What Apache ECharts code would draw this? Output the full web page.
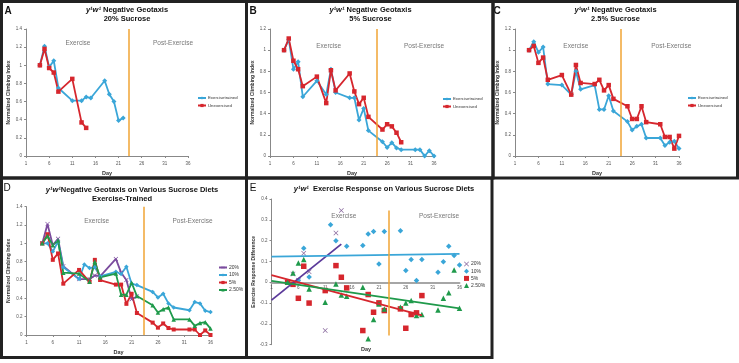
<!DOCTYPE html>
<html>
<head>
<meta charset="utf-8">
<title>Negative Geotaxis</title>
<style>
  html, body, #main { width: 739px; height: 363px; margin: 0; overflow: hidden; background: #fff; }
</style>
</head>
<body>
<div id="main"></div>
<script src="https://cdn.jsdelivr.net/npm/echarts@6/dist/echarts.min.js"></script>
<script>
// ---- values ----
// A: 20% sucrose
var daysA_trained = [4, 5, 6, 7, 8, 11, 13, 14, 15, 18, 19, 20, 21, 22];
var valsA_trained = [1.0, 1.21, 0.98, 1.05, 0.75, 0.61, 0.61, 0.65, 0.64, 0.83, 0.68, 0.60, 0.39, 0.42];
var daysA_unex = [4, 5, 6, 7, 8, 11, 13, 14];
var valsA_unex = [1.0, 1.18, 0.97, 0.92, 0.71, 0.85, 0.37, 0.31];

// B: 5% sucrose
var daysB_trained = [4, 5, 6, 7, 8, 11, 13, 14, 15, 18, 19, 20, 21, 22, 25, 26, 27, 28, 29, 32, 33, 34, 35, 36];
var valsB_trained = [1.0, 1.10, 0.82, 0.89, 0.56, 0.71, 0.58, 0.82, 0.60, 0.55, 0.55, 0.34, 0.45, 0.24, 0.135, 0.08, 0.126, 0.076, 0.06, 0.06, 0.06, 0.0, 0.05, 0.0];
var daysB_unex = [4, 5, 6, 7, 8, 11, 13, 14, 15, 18, 19, 20, 21, 22, 25, 26, 27, 28, 29];
var valsB_unex = [1.0, 1.11, 0.90, 0.82, 0.66, 0.75, 0.50, 0.81, 0.62, 0.78, 0.61, 0.49, 0.55, 0.37, 0.25, 0.30, 0.28, 0.22, 0.13];

// C: 2.5% sucrose
var daysC = [4, 5, 6, 7, 8, 11, 13, 14, 15, 18, 19, 20, 21, 22, 25, 26, 27, 28, 29, 32, 33, 34, 35, 36];
var valsC_trained = [1.0, 1.08, 0.98, 1.03, 0.68, 0.67, 0.58, 0.80, 0.63, 0.67, 0.44, 0.44, 0.57, 0.425, 0.325, 0.245, 0.28, 0.30, 0.17, 0.17, 0.10, 0.13, 0.14, 0.07];
var valsC_unex = [1.0, 1.04, 0.88, 0.93, 0.72, 0.765, 0.58, 0.86, 0.69, 0.68, 0.72, 0.62, 0.67, 0.54, 0.47, 0.35, 0.35, 0.47, 0.32, 0.30, 0.18, 0.18, 0.07, 0.19];

// D: exercise-trained, 10% (the other diets repeat A/B/C trained)
var daysD_10 = [4, 5, 6, 7, 8, 11, 12, 13, 14, 15, 18, 19, 20, 21, 22, 25, 26, 27, 28, 29, 32, 33, 34, 35, 36];
var valsD_10 = [1.0, 1.0, 0.91, 1.02, 0.74, 0.61, 0.77, 0.73, 0.74, 0.64, 0.69, 0.665, 0.745, 0.56, 0.545, 0.47, 0.41, 0.45, 0.345, 0.30, 0.27, 0.36, 0.345, 0.265, 0.25];

// E: exercise response difference
var daysE_20 = [4, 5, 6, 7, 8, 11, 13, 14];
var valsE_20 = [0.0, 0.04, 0.01, 0.139, 0.05, -0.232, 0.237, 0.345];
var daysE_10 = [6, 7, 8, 12, 13, 15, 18, 19, 20, 21, 22, 25, 26, 27, 28, 29, 32, 33, 34, 35, 36];
var valsE_10 = [0.01, 0.163, 0.025, 0.276, 0.20, 0.173, 0.176, 0.232, 0.244, 0.088, 0.244, 0.248, 0.056, 0.109, 0.008, 0.109, 0.048, 0.099, 0.173, 0.128, 0.083];
var daysE_5 = [4, 5, 6, 7, 8, 11, 13, 14, 15, 18, 19, 20, 21, 22, 25, 26, 27, 28, 29];
var valsE_5 = [0.0, -0.01, -0.077, 0.077, -0.10, -0.04, 0.08, 0.024, -0.027, -0.232, -0.059, -0.144, -0.099, -0.136, -0.128, -0.221, -0.155, -0.147, -0.064];
var daysE_25 = [4, 5, 6, 7, 8, 11, 13, 14, 15, 18, 19, 20, 21, 22, 25, 26, 27, 28, 29, 32, 33, 34, 35, 36];
var valsE_25 = [0.0, 0.045, 0.093, 0.109, -0.032, -0.096, -0.008, -0.061, -0.067, -0.024, -0.272, -0.179, -0.104, -0.128, -0.12, -0.10, -0.088, -0.16, -0.155, -0.133, -0.077, -0.051, 0.059, -0.125];

// linear trendlines in E (end points)
var trend20 = [[1, -0.086], [14, 0.183]];
var trend10 = [[1, 0.123], [36, 0.136]];
var trend5 = [[1, 0.034], [29, -0.159]];
var trend25 = [[1, 0.007], [36, -0.125]];

// end of the exercise period, per panel A..E
var exerciseEnd = [23.3, 23.7, 23.6, 23.3, 22.9];

var BLUE = '#3aa6d8', RED = '#d6262d', PURPLE = '#7b4c9e', GREEN = '#1f9a4b', ORANGE = '#f0a535';
var FONT = 'Liberation Sans, Arial, sans-serif';
var XMARK = 'path://M0,1L1,0L5,4L9,0L10,1L6,5L10,9L9,10L5,6L1,10L0,9L4,5Z';

function zip(d, v) {
    return d.map(function (x, i) { return [x, v[i]]; });
}

var grids = [
    {left: 26, top: 29, width: 162, height: 127},
    {left: 270, top: 29, width: 164, height: 127},
    {left: 515, top: 29, width: 164, height: 127},
    {left: 26.5, top: 206.7, width: 184, height: 128.3},
    {left: 271.5, top: 199, width: 188, height: 145.7}
];
var yRange = [[0, 1.4, 0.2], [0, 1.2, 0.2], [0, 1.2, 0.2], [0, 1.4, 0.2], [-0.3, 0.4, 0.1]];

var xAxes = grids.map(function (g, i) {
    var ax = {
        type: 'value', gridIndex: i, min: 1, max: 36, interval: 5,
        name: i < 4 ? 'Day' : '', nameLocation: 'middle', nameGap: 14,
        nameTextStyle: {fontSize: 5.5, fontWeight: 'bold', color: '#333', fontFamily: FONT},
        axisLine: {onZero: false, lineStyle: {color: i < 4 ? '#888' : '#a6a6a6', width: i < 4 ? 1 : 2}},
        axisTick: {show: i < 4, length: 2, lineStyle: {color: '#888'}},
        axisLabel: {fontSize: 4.5, color: '#555', margin: i < 4 ? 5 : 3, fontFamily: FONT},
        splitLine: {show: false}
    };
    if (i === 4) {
        // E: the day axis crosses at response 0
        ax.offset = -g.height * (0 - yRange[i][0]) / (yRange[i][1] - yRange[i][0]);
    }
    return ax;
});
var yAxes = grids.map(function (g, i) {
    return {
        type: 'value', gridIndex: i, min: yRange[i][0], max: yRange[i][1], interval: yRange[i][2],
        name: i < 4 ? 'Normalized Climbing Index' : 'Exercise Response Difference',
        nameLocation: 'middle', nameGap: 15,
        nameTextStyle: {fontSize: 5, fontWeight: 'bold', color: '#333', fontFamily: FONT},
        axisLine: {show: true, onZero: false, lineStyle: {color: '#888'}},
        axisTick: {show: true, length: 2, lineStyle: {color: '#888'}},
        axisLabel: {fontSize: 4.5, color: '#555', margin: 4, fontFamily: FONT},
        splitLine: {show: false}
    };
});

function lineSeries(name, idx, data, color, symbol, size) {
    return {
        name: name, type: 'line', xAxisIndex: idx, yAxisIndex: idx, data: data,
        symbol: symbol, symbolSize: size, showAllSymbol: true,
        lineStyle: {color: color, width: 1.8},
        itemStyle: {color: color},
        emphasis: {disabled: true}, animation: false
    };
}
function endLine(idx, y0, y1) {
    return {
        silent: true, symbol: 'none', animation: false,
        label: {show: false},
        lineStyle: {color: ORANGE, width: 1.5, type: 'solid'},
        data: [[{coord: [exerciseEnd[idx], y0]}, {coord: [exerciseEnd[idx], y1]}]]
    };
}

var series = [];
// top row
var topRow = [
    [daysA_trained, valsA_trained, daysA_unex, valsA_unex, 1.4],
    [daysB_trained, valsB_trained, daysB_unex, valsB_unex, 1.2],
    [daysC, valsC_trained, daysC, valsC_unex, 1.2]
];
topRow.forEach(function (p, i) {
    var s = lineSeries('Exercisetrained', i, zip(p[0], p[1]), BLUE, 'diamond', 5);
    s.markLine = endLine(i, 0, p[4]);
    series.push(s);
    series.push(lineSeries('Unexercised', i, zip(p[2], p[3]), RED, 'rect', 4.5));
});
// D
var d20 = lineSeries('20%', 3, zip(daysA_trained, valsA_trained), PURPLE, XMARK, 4.5);
d20.markLine = endLine(3, 0, 1.4);
series.push(d20);
series.push(lineSeries('10%', 3, zip(daysD_10, valsD_10), BLUE, 'diamond', 4.5));
series.push(lineSeries('5%', 3, zip(daysB_trained, valsB_trained), RED, 'rect', 4));
series.push(lineSeries('2.50%', 3, zip(daysC, valsC_trained), GREEN, 'triangle', 4.5));
// E scatter
function scat(name, data, color, symbol, size) {
    return {
        name: name, type: 'scatter', xAxisIndex: 4, yAxisIndex: 4, data: data,
        symbol: symbol, symbolSize: size, itemStyle: {color: color, opacity: 1},
        emphasis: {disabled: true}, animation: false
    };
}
var e10 = scat('E 10%', zip(daysE_10, valsE_10), BLUE, 'diamond', 5.5);
e10.markLine = endLine(4, -0.256, 0.345);
series.push(scat('E 20%', zip(daysE_20, valsE_20), '#8a6a9e', XMARK, 5));
series.push(e10);
series.push(scat('E 5%', zip(daysE_5, valsE_5), RED, 'rect', 5.5));
series.push(scat('E 2.50%', zip(daysE_25, valsE_25), GREEN, 'triangle', 5.5));
[[trend20, '#5b3a9a'], [trend10, BLUE], [trend5, RED], [trend25, GREEN]].forEach(function (t) {
    series.push({
        name: 'trend', type: 'line', xAxisIndex: 4, yAxisIndex: 4, data: t[0],
        showSymbol: false, lineStyle: {color: t[1], width: 1.8}, silent: true, animation: false
    });
});

function legendAt(names, left, topPx, opts) {
    var l = {
        data: names, left: left, top: topPx, orient: 'vertical', padding: 0,
        itemWidth: 8, itemHeight: 4, itemGap: 3.5, selectedMode: false,
        textStyle: {fontSize: 4.3, color: '#333', fontFamily: FONT, padding: [0, 0, 0, -3]}
    };
    for (var k in opts) l[k] = opts[k];
    return l;
}
var smallText = {fontSize: 5, color: '#333', fontFamily: FONT, padding: [0, 0, 0, -3]};
var legends = [
    legendAt(['Exercisetrained', 'Unexercised'], 197, 96, {}),
    legendAt(['Exercisetrained', 'Unexercised'], 442, 97, {}),
    legendAt(['Exercisetrained', 'Unexercised'], 687, 96, {}),
    legendAt(['20%', '10%', '5%', '2.50%'], 218, 265, {itemGap: 2.5, textStyle: smallText}),
    legendAt(['E 20%', 'E 10%', 'E 5%', 'E 2.50%'], 464, 261.5, {
        itemWidth: 5, itemHeight: 5, itemGap: 2.2, textStyle: smallText,
        formatter: function (n) { return n.replace('E ', ''); }
    })
];

// ---- text and frames ----
var rich = {
    it: {fontStyle: 'italic', fontWeight: 'bold', fontSize: 7.5, fontFamily: FONT, fill: '#111'},
    b: {fontWeight: 'bold', fontSize: 7.5, fontFamily: FONT, fill: '#111'}
};
function txt(x, y, s, font, color, useRich) {
    var st = {text: s, x: 0, y: 0, align: 'center', verticalAlign: 'middle', fill: color || '#111', font: font};
    if (useRich) st.rich = rich;
    return {type: 'text', x: x, y: y, z: 100, silent: true, style: st};
}
var graphics = [];
var titleFont = 'bold 7.5px ' + FONT;
[[127, 'A', '20% Sucrose'], [370.5, 'B', '5% Sucrose'], [615.5, 'C', '2.5% Sucrose']].forEach(function (t) {
    graphics.push(txt(t[0], 10, '{it|y¹w¹} {b|Negative Geotaxis}', titleFont, '#111', true));
    graphics.push(txt(t[0], 19, t[2], titleFont));
});
graphics.push(txt(132, 190, '{it|y¹w¹}{b|Negative Geotaxis on Various Sucrose Diets}', titleFont, '#111', true));
graphics.push(txt(122, 198.5, 'Exercise-Trained', titleFont));
graphics.push(txt(384, 189, '{it|y¹w¹}{b|  Exercise Response on Various Sucrose Diets}', titleFont, '#111', true));

// panel letters
[[8, 11, 'A', 'bold'], [253, 11, 'B', 'bold'], [497, 11, 'C', 'bold'], [7, 188, 'D', 'normal'], [253, 188, 'E', 'normal']].forEach(function (t) {
    graphics.push(txt(t[0], t[1], t[2], t[3] + ' 10px ' + FONT, '#111'));
});

// Exercise / Post-Exercise annotations
var phaseFont = '6.5px ' + FONT;
[[78, 173, 43], [328.7, 424, 46], [575.8, 671.3, 46.7], [96.7, 192.5, 221.7], [343.8, 439, 216.7]].forEach(function (t) {
    graphics.push(txt(t[0], t[2], 'Exercise', phaseFont, '#777'));
    graphics.push(txt(t[1], t[2], 'Post-Exercise', phaseFont, '#777'));
});
graphics.push(txt(366, 349, 'Day', 'bold 5.5px ' + FONT, '#333'));

// panel frames
[[1.5, 1.5, 245, 176.5], [246.5, 1.5, 246.5, 176.5], [493, 1.5, 244.5, 176.5],
 [1.5, 178, 245, 179.5], [246.5, 178, 245.5, 179.5]].forEach(function (r) {
    graphics.push({
        type: 'rect', z: 101, silent: true,
        shape: {x: r[0], y: r[1], width: r[2], height: r[3]},
        style: {fill: 'none', stroke: '#222', lineWidth: 3}
    });
});

var myChart = echarts.init(document.getElementById('main'), null, {renderer: 'canvas'});
myChart.setOption({
    animation: false,
    backgroundColor: '#fff',
    textStyle: {fontFamily: FONT},
    grid: grids,
    xAxis: xAxes,
    yAxis: yAxes,
    legend: legends,
    series: series,
    graphic: graphics
});
</script>
</body>
</html>
